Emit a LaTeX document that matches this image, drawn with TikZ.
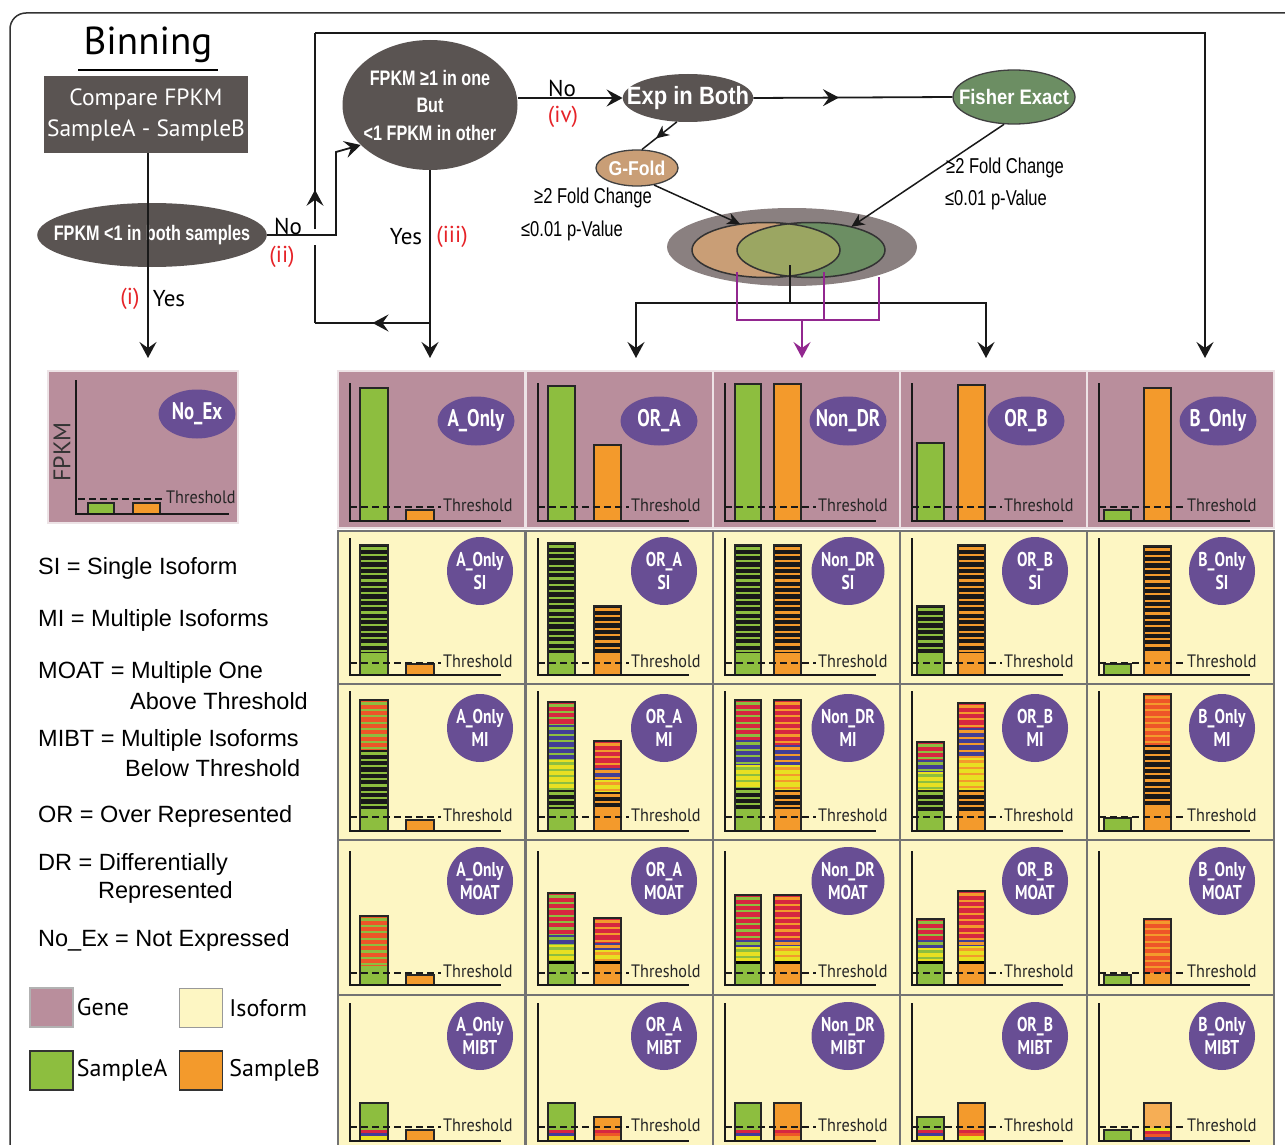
\documentclass[tikz,border=0pt]{standalone}
\usepackage{fontspec}
\setmainfont{Liberation Sans}
\newfontfamily\myriad{PT Sans}
\newfontfamily\cond[FakeStretch=0.77]{Liberation Sans}
\newfontfamily\condm[FakeStretch=0.88]{Liberation Sans}
\newfontfamily\lblfont[FakeStretch=0.78]{PT Sans}
\newfontfamily\thrfont[FakeStretch=0.9]{PT Sans}
\usetikzlibrary{arrows.meta,decorations.markings,shapes.geometric,positioning}

\definecolor{geneBg}{RGB}{185,142,156}
\definecolor{isoBg}{RGB}{253,246,195}
\definecolor{sA}{RGB}{141,190,63}
\definecolor{sB}{RGB}{243,154,44}
\definecolor{sBlight}{RGB}{246,174,85}
\definecolor{labelPurple}{RGB}{104,78,148}
\definecolor{flowGray}{RGB}{90,84,82}
\definecolor{fishGreen}{RGB}{108,142,99}
\definecolor{gfoldTan}{RGB}{201,158,118}
\definecolor{vennOuter}{RGB}{138,128,128}
\definecolor{vennMix}{RGB}{155,166,98}
\definecolor{isoRed}{RGB}{214,38,64}
\definecolor{isoOrRed}{RGB}{238,85,40}
\definecolor{isoBlue}{RGB}{66,62,150}
\definecolor{isoYel}{RGB}{232,224,34}
\definecolor{numRed}{RGB}{230,35,40}
\definecolor{linkPurple}{RGB}{146,39,143}

\tikzset{
  conn/.style={draw=black!90, line width=1.8pt},
  flow/.style={conn, -{Stealth[length=16pt,width=17pt,inset=6pt]}},
  flowsmall/.style={draw=black!90, line width=1.5pt, -{Stealth[length=13pt,width=12pt,inset=4pt]}},
  midarrow/.style={conn, postaction={decorate}, decoration={markings, mark=at position #1 with {\arrow{Stealth[length=16pt,width=17pt,inset=6pt]}}}},
  midarrowsm/.style={draw=black!90, line width=1.5pt, postaction={decorate}, decoration={markings, mark=at position #1 with {\arrow{Stealth[length=13pt,width=12pt,inset=4pt]}}}},
  plink/.style={draw=linkPurple, line width=1.6pt},
  darkell/.style={ellipse, fill=flowGray, text=white, inner ysep=0pt, align=center},
  cmpbox/.style={rectangle, fill=flowGray, text=white, minimum width=196pt, minimum height=77pt, align=center, font=\myriad\fontsize{23.5}{31}\selectfont},
  lbl/.style={ellipse, fill=labelPurple, text=white, inner sep=0pt, align=center, minimum width=66pt, minimum height=68pt, font=\lblfont\bfseries\fontsize{20}{23}\selectfont},
  genelbl/.style={lbl, minimum width=77pt, minimum height=49pt, font=\lblfont\bfseries\fontsize{24}{24}\selectfont},
  barline/.style={draw=black!85, line width=1.5pt},
  axisline/.style={draw=black!90, line width=2pt},
  thrline/.style={draw=black!90, line width=1.8pt, dash pattern=on 7pt off 4pt},
  thrtext/.style={anchor=west, inner sep=0pt, text=black!85, font=\thrfont\fontsize{18}{18}\selectfont},
  isocell/.style={fill=isoBg, draw=black!55, line width=1.5pt},
  genecell/.style={fill=geneBg, draw=white!75!geneBg, line width=1.5pt},
  legtxt/.style={anchor=west, inner sep=0pt, font=\fontsize{23.5}{24}\selectfont},
  keytxt/.style={inner sep=0pt, font=\myriad\fontsize{24}{24}\selectfont},
  edgetxt/.style={inner sep=0pt, font=\myriad\fontsize{23}{23}\selectfont},
  numtxt/.style={edgetxt, text=numRed},
  critxt/.style={inner sep=0pt, font=\cond\fontsize{21.5}{21.5}\selectfont},
  legsq/.style={minimum width=43pt, minimum height=39pt, inner sep=0pt, line width=1.5pt},
}

% striped isoform segment: x1, x2, top, bottom, fill, stripe colour
\newcommand{\stripes}[6]{%
  \begin{scope}
    \clip (#1,#3) rectangle (#2,#4);
    \fill[fill=#5] (#1,#3) rectangle (#2,#4);
    \foreach \k in {0,...,24}
      \draw[draw=#6, line width=2.3pt] (#1,#3+\k*6.4+3.5) -- (#2,#3+\k*6.4+3.5);
  \end{scope}}
% bar made of segments top/bottom/fill/stripe
\newcommand{\isobar}[5]{%
  \foreach \sgt/\sgb/\sbg/\sst in {#5} {\stripes{#1}{#2}{\sgt}{\sgb}{\sbg}{\sst}}
  \draw[barline] (#1,#3) rectangle (#2,#4);}

\begin{document}
\begin{tikzpicture}[x=1pt,y=-1pt]
\useasboundingbox (0,0) rectangle (1285,1145);
\clip (0,0) rectangle (1285,1145);
\fill[white] (0,0) rectangle (1285,1145);
\draw[line width=1.5pt, draw=black!80, rounded corners=16pt] (10,13) rectangle (1310,1170);

% flow chart
\node[font=\myriad\fontsize{39}{39}\selectfont, inner sep=0pt] (title) at (148,45) {Binning};
\draw[line width=2pt] (78,70) -- (218,70);
\node[cmpbox] (cmp) at (146,114.5) {Compare FPKM\\SampleA - SampleB};
\node[darkell, minimum width=228pt, minimum height=64pt, inner xsep=-17pt, font=\cond\bfseries\fontsize{21}{21}\selectfont] (both) at (152,235) {FPKM <1 in both samples};
\node[darkell, minimum width=175pt, minimum height=130pt, inner xsep=-5pt, font=\cond\bfseries\fontsize{21}{27.5}\selectfont] (oneof) at (430,105) {FPKM ≥1 in one\\But\\<1 FPKM in other};
\node[darkell, minimum width=130pt, minimum height=48pt, inner xsep=-15pt, font=\condm\bfseries\fontsize{25}{25}\selectfont] (expboth) at (688,98) {Exp in Both};
\node[darkell, fill=fishGreen, draw=black!75, line width=1.3pt, minimum width=122pt, minimum height=54pt, inner xsep=-12pt, font=\condm\bfseries\fontsize{21}{21}\selectfont] (fisher) at (1014,97) {Fisher Exact};
\node[darkell, fill=gfoldTan, draw=black!75, line width=1.3pt, minimum width=82pt, minimum height=36pt, inner xsep=0pt, font=\condm\bfseries\fontsize{20}{20}\selectfont] (gfold) at (637,168) {G-Fold};

% venn
\node[ellipse, fill=vennOuter, minimum width=250pt, minimum height=78pt] (venn) at (792,247) {};
\node[ellipse, fill=gfoldTan, minimum width=148pt, minimum height=55pt] (vennA) at (766,250) {};
\node[ellipse, fill=fishGreen, minimum width=148pt, minimum height=55pt] (vennB) at (811,250) {};
\begin{scope}
  \clip (766,250) ellipse (74 and 27.5);
  \fill[vennMix] (811,250) ellipse (74 and 27.5);
\end{scope}
\draw[line width=1.5pt, black!80] (766,250) ellipse (74 and 27.5);
\draw[line width=1.5pt, black!80] (811,250) ellipse (74 and 27.5);

\coordinate (inNoEx) at (148,358);
\coordinate (inAOnly) at (430,358);
\coordinate (inORA) at (636,358);
\coordinate (inNonDR) at (802,358);
\coordinate (inORB) at (986,358);
\coordinate (inBOnly) at (1205,358);
\coordinate (noUp) at (336,152);
\coordinate (yesTurn) at (430,323);
\coordinate (loopCorner) at (315,323);
\coordinate (hopLow) at (315,245);
\coordinate (hopHigh) at (315,229);
\coordinate (loopTop) at (315,33);
\coordinate (vennOut) at (790,265);
\coordinate (split) at (790,303);
\coordinate (pA) at (737,272);
\coordinate (pM) at (824,272);
\coordinate (pB) at (879,277);
\coordinate (pJoin) at (802,320);

\draw[flow] (cmp.south -| inNoEx) -- (inNoEx);
\draw[flow] (both.east) -| (noUp) -- (oneof.210);
\draw[flow] (oneof.south) -- (inAOnly);
\draw[midarrow=0.5] (yesTurn) -- (loopCorner);
\draw[conn] (loopCorner) -- (hopLow);
\draw[midarrow=0.2] (hopHigh) -- (loopTop);
\draw[flow] (loopTop) -| (inBOnly);
\draw[flow] (oneof.east |- expboth.west) -- (expboth.west);
\draw[midarrow=0.43] (expboth.east) -- (fisher.west);
\draw[midarrowsm=0.6] (expboth.245) -- (gfold.75);
\draw[flowsmall] (gfold.-45) -- (vennA.135);
\draw[flowsmall] (fisher.250) -- (vennB.30);
\draw[conn] (vennOut) -- (split);
\draw[flow] (split) -| (inORA);
\draw[flow] (split) -| (inORB);
\draw[plink] (pA) |- (pJoin);
\draw[plink] (pB) |- (pJoin);
\draw[plink] (pM) -- (pM |- pJoin);
\draw[plink, -{Stealth[length=16pt,width=17pt,inset=6pt]}] (pJoin) -- (inNonDR);

\node[numtxt] (ni) at (130,299) {(i)};
\node[edgetxt] (yes1) at (169,299) {Yes};
\node[edgetxt] (no1) at (288,226) {No};
\node[numtxt] (nii) at (282,257) {(ii)};
\node[edgetxt] (yes2) at (406,237) {Yes};
\node[numtxt] (niii) at (452,237) {(iii)};
\node[edgetxt] (no2) at (562,88) {No};
\node[numtxt] (niv) at (563,117) {(iv)};
\node[critxt] (gfc) at (593,198) {≥2 Fold Change};
\node[critxt] (gpv) at (572,231) {≤0.01 p-Value};
\node[critxt] (ffc) at (1005,168) {≥2 Fold Change};
\node[critxt] (fpv) at (996,200) {≤0.01 p-Value};

% cell backgrounds
\path[genecell] (48,371) rectangle (238,523);
\foreach \xo in {338,526,713,900,1087} {
  \path[genecell] (\xo,371) rectangle (\xo+187,528);
  \foreach \yt/\yb in {531/684,684/840,840/995,995/1170}
    \path[isocell] (\xo,\yt) rectangle (\xo+187,\yb);
}

% No_Ex cell
\draw[barline, fill=sA] (88,503) rectangle (114,514);
\draw[barline, fill=sB] (133,503) rectangle (160,514);
\draw[axisline] (76,380) -- (76,514) -- (229,514);
\draw[thrline] (78,499) -- (164,499);
\node[thrtext] (thrNoEx) at (166,497) {Threshold};
\node[rotate=90, inner sep=0pt, text=black!80, font=\myriad\fontsize{24}{24}\selectfont] (fpkm) at (62,452) {FPKM};
\node[genelbl] (geneNoEx) at (197,414) {\makebox[0pt]{No\_Ex}};

% gene row
\draw[barline, fill=sA] (360,388) rectangle (388,521);
\draw[barline, fill=sB] (406,510) rectangle (434,521);
\draw[barline, fill=sA] (548,386) rectangle (575,521);
\draw[barline, fill=sB] (594,445) rectangle (621,521);
\draw[barline, fill=sA] (735,384) rectangle (761,521);
\draw[barline, fill=sB] (774,384) rectangle (801,521);
\draw[barline, fill=sA] (917,443) rectangle (944,521);
\draw[barline, fill=sB] (958,385) rectangle (985,521);
\draw[barline, fill=sA] (1104,510) rectangle (1131,521);
\draw[barline, fill=sB] (1144,388) rectangle (1171,521);

% SI row
\isobar{360}{388}{545}{675}{545/653/black!90/sA, 653/675/sA/sA}
\draw[barline, fill=sB] (406,664) rectangle (434,675);
\isobar{548}{575}{543}{675}{543/653/black!90/sA, 653/675/sA/sA}
\isobar{594}{621}{606}{675}{606/653/black!90/sB, 653/675/sB/sB}
\isobar{735}{761}{545}{675}{545/653/black!90/sA, 653/675/sA/sA}
\isobar{774}{801}{545}{675}{545/653/black!90/sB, 653/675/sB/sB}
\isobar{917}{944}{606}{675}{606/653/black!90/sA, 653/675/sA/sA}
\isobar{958}{985}{545}{675}{545/653/black!90/sB, 653/675/sB/sB}
\draw[barline, fill=sA] (1104,664) rectangle (1131,675);
\isobar{1144}{1171}{546}{675}{546/653/black!90/sB, 653/675/sB/sB}

% MI row
\isobar{360}{388}{700}{831}{700/750/isoOrRed/sA, 750/809/black!90/sA, 809/831/sA/sA}
\draw[barline, fill=sB] (406,820) rectangle (434,831);
\isobar{548}{575}{702}{831}{702/725/isoRed/sA, 725/760/isoBlue/sA, 760/790/isoYel/sA, 790/809/black!90/sA, 809/831/sA/sA}
\isobar{594}{621}{741}{831}{741/768/isoRed/sB, 768/780/isoBlue/sB, 780/792/isoYel/sB, 792/809/black!90/sB, 809/831/sB/sB}
\isobar{735}{761}{700}{831}{700/740/isoRed/sA, 740/765/isoBlue/sA, 765/788/isoYel/sA, 788/809/black!90/sA, 809/831/sA/sA}
\isobar{774}{801}{700}{831}{700/745/isoRed/sB, 745/765/isoBlue/sB, 765/790/isoYel/sB, 790/809/black!90/sB, 809/831/sB/sB}
\isobar{917}{944}{742}{831}{742/760/isoRed/sA, 760/772/isoBlue/sA, 772/790/isoYel/sA, 790/811/black!90/sA, 811/831/sA/sA}
\isobar{958}{985}{703}{831}{703/728/isoRed/sB, 728/758/isoBlue/sB, 758/790/isoYel/sB, 790/811/black!90/sB, 811/831/sB/sB}
\draw[barline, fill=sA] (1104,818) rectangle (1131,831);
\isobar{1144}{1171}{694}{831}{694/745/isoOrRed/sB, 745/805/black!90/sB, 805/831/sB/sB}

% MOAT row
\isobar{360}{388}{916}{985}{916/966/isoOrRed/sA, 966/985/sA/sA}
\draw[barline, fill=sB] (406,975) rectangle (434,985);
\isobar{548}{575}{893}{985}{893/935/isoRed/sA, 935/945/isoBlue/sA, 945/961/isoYel/sA, 961/964/black/black, 964/985/sA/sA}
\isobar{594}{621}{918}{985}{918/943/isoRed/sB, 943/950/isoBlue/sB, 950/961/isoYel/sB, 961/964/black/black, 964/985/sB/sB}
\isobar{735}{761}{895}{985}{895/940/isoRed/sA, 940/947/isoBlue/sA, 947/961/isoYel/sA, 961/964/black/black, 964/985/sA/sA}
\isobar{774}{801}{895}{985}{895/940/isoRed/sB, 940/946/isoBlue/sB, 946/961/isoYel/sB, 961/964/black/black, 964/985/sB/sB}
\isobar{917}{944}{919}{985}{919/940/isoRed/sA, 940/948/isoBlue/sA, 948/961/isoYel/sA, 961/964/black/black, 964/985/sA/sA}
\isobar{958}{985}{891}{985}{891/940/isoRed/sB, 940/946/isoBlue/sB, 946/961/isoYel/sB, 961/964/black/black, 964/985/sB/sB}
\draw[barline, fill=sA] (1104,975) rectangle (1131,985);
\isobar{1144}{1171}{919}{985}{919/975/isoOrRed/sB, 975/985/sB/sB}

% MIBT row
\isobar{360}{388}{1103}{1141}{1103/1130/sA/sA, 1130/1133/isoRed/isoRed, 1133/1136/isoBlue/isoBlue, 1136/1141/isoYel/isoYel}
\draw[barline, fill=sB] (406,1130) rectangle (434,1141);
\isobar{548}{575}{1103}{1141}{1103/1130/sA/sA, 1130/1133/isoRed/isoRed, 1133/1136/isoBlue/isoBlue, 1136/1141/isoYel/isoYel}
\isobar{594}{621}{1117}{1141}{1117/1130/sB/sB, 1130/1133/isoRed/isoRed, 1133/1136/isoOrRed/isoOrRed, 1136/1141/sB/sB}
\isobar{735}{761}{1103}{1141}{1103/1130/sA/sA, 1130/1133/isoRed/isoRed, 1133/1136/isoBlue/isoBlue, 1136/1141/isoYel/isoYel}
\isobar{774}{801}{1103}{1141}{1103/1130/sB/sB, 1130/1133/isoRed/isoRed, 1133/1136/isoOrRed/isoOrRed, 1136/1141/sB/sB}
\isobar{917}{944}{1117}{1141}{1117/1130/sA/sA, 1130/1133/isoRed/isoRed, 1133/1136/isoBlue/isoBlue, 1136/1141/isoYel/isoYel}
\isobar{958}{985}{1103}{1141}{1103/1130/sB/sB, 1130/1133/isoRed/isoRed, 1133/1136/isoOrRed/isoOrRed, 1136/1141/isoYel/isoYel}
\draw[barline, fill=sA] (1104,1130) rectangle (1131,1141);
\isobar{1144}{1171}{1103}{1141}{1103/1128/sBlight/sBlight, 1128/1131/isoYel/isoYel, 1131/1134/isoRed/isoRed, 1134/1137/isoOrRed/isoOrRed, 1137/1141/isoBlue/isoBlue}

% axes, thresholds and labels
\foreach \xo/\tx in {338/105,526/105,713/105,900/104,1087/100} {
  \foreach \ytop/\ybot/\thr in {383/521/507, 538/675/663, 691/831/817, 851/985/973, 1003/1141/1127} {
    \draw[axisline] (\xo+12,\ytop) -- (\xo+12,\ybot) -- (\xo+163,\ybot);
    \draw[thrline] (\xo+12,\thr) -- (\xo+\tx-2,\thr);
    \node[thrtext] (thr-\xo-\thr) at (\xo+\tx,\thr-2) {Threshold};
  }
}
\foreach \xo/\nm/\gx/\ix/\lw in {338/A\_Only/138/142/66, 526/OR\_A/133/138/66, 713/Non\_DR/135/135/73, 900/OR\_B/126/135/66, 1087/B\_Only/131/135/66} {
  \node[genelbl] (gene-\xo) at (\xo+\gx,421) {\makebox[0pt]{\nm}};
  \foreach \yc/\rw in {571/SI,728/MI,881/MOAT,1036/MIBT}
    \node[lbl, minimum width=\lw] (\rw-\xo) at (\xo+\ix,\yc) {\makebox[0pt]{\nm}\\\makebox[0pt]{\rw}};
}

% legend
\node[legtxt] (defSI) at (38,568) {SI = Single Isoform};
\node[legtxt] (defMI) at (38,620) {MI = Multiple Isoforms};
\node[legtxt] (defMOAT) at (38,672) {MOAT = Multiple One};
\node[legtxt] (defMOATb) at (130,701) {Above Threshold};
\node[legtxt] (defMIBT) at (38,740) {MIBT = Multiple Isoforms};
\node[legtxt] (defMIBTb) at (125,768) {Below Threshold};
\node[legtxt] (defOR) at (38,816) {OR = Over Represented};
\node[legtxt] (defDR) at (38,864) {DR = Differentially};
\node[legtxt] (defDRb) at (98,892) {Represented};
\node[legtxt] (defNoEx) at (38,940) {No\_Ex = Not Expressed};

\node[legsq, fill=geneBg, draw=black!30] (sqGene) at (51.5,1007.5) {};
\node[keytxt, right=3pt of sqGene] (txtGene) {Gene};
\node[legsq, fill=isoBg, draw=black!40] (sqIso) at (201,1008) {};
\node[keytxt, right=6pt of sqIso] (txtIso) {Isoform};
\node[legsq, fill=sA, draw=black!80] (sqA) at (51.5,1070.5) {};
\node[keytxt, right=3pt of sqA] (txtA) {SampleA};
\node[legsq, fill=sB, draw=black!80] (sqB) at (201,1070.5) {};
\node[keytxt, right=6pt of sqB] (txtB) {SampleB};
\end{tikzpicture}
\end{document}
